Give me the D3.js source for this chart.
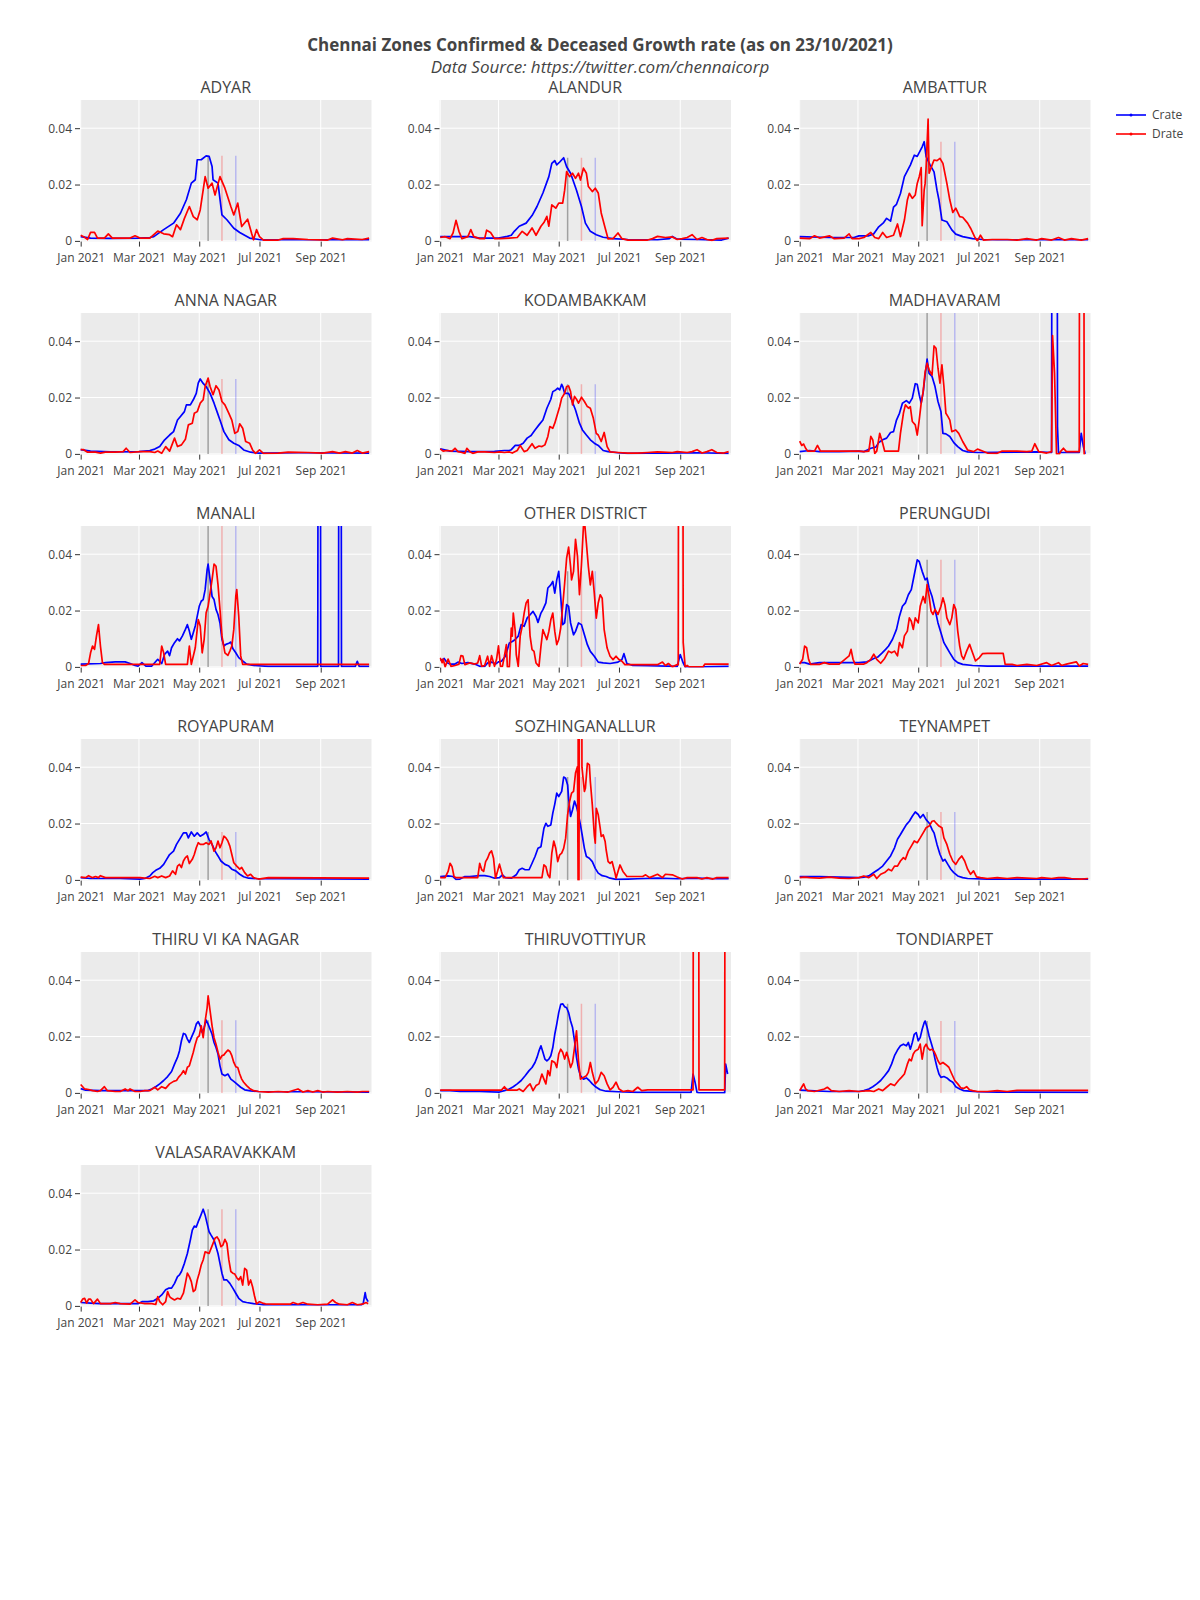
<!DOCTYPE html>
<html><head><meta charset="utf-8">
<script src="https://cdn.jsdelivr.net/npm/d3@7"></script>
<style>
body{margin:0;background:#fff}
svg{display:block;font-family:"Open Sans",sans-serif}
</style>
</head><body>
<svg id="chart" width="1200" height="1600"></svg>
<script>
// ---- data (x = days since 2021-01-01, y = growth rate) ----
const zones = ["ADYAR","ALANDUR","AMBATTUR","ANNA NAGAR","KODAMBAKKAM","MADHAVARAM","MANALI","OTHER DISTRICT","PERUNGUDI","ROYAPURAM","SOZHINGANALLUR","TEYNAMPET","THIRU VI KA NAGAR","THIRUVOTTIYUR","TONDIARPET","VALASARAVAKKAM"];
const seriesNames = ["Crate","Drate"];
const seriesColors = ["#0000ff","#ff0000"];
const xTickDates = ["2021-01-01","2021-03-01","2021-05-01","2021-07-01","2021-09-01"];
const xTickLabels = ["Jan 2021","Mar 2021","May 2021","Jul 2021","Sep 2021"];
const yTickValues = [0,0.02,0.04];
const yTickLabels = ["0","0.02","0.04"];
const phaseDates = ["2021-05-10","2021-05-24","2021-06-07"];
const phaseColors = ["rgba(110,110,110,0.6)","rgba(255,0,0,0.25)","rgba(0,0,255,0.22)"];
const titleText = "Chennai Zones Confirmed & Deceased Growth rate (as on 23/10/2021)";
const subtitleText = "Data Source: https://twitter.com/chennaicorp";

const crateADYAR = [[0,.0015],[10,.001],[30,.0009],[59,.001],[70,.0012],[74,.0015],[84,.004],[94,.0063],[101,.0098],[107,.0146],[112,.0205],[116,.0217],[118,.0288],[122,.0288],[127,.0302],[130,.030],[133,.0264],[134,.0217],[139,.0205],[143,.0092],[148,.0075],[155,.0045],[161,.003],[171,.001],[182,.0004],[220,.0004],[260,.0004],[292,.0004]];
const drateADYAR = [[0,.002],[3,.0015],[7,.0005],[10,.003],[14,.003],[17,.001],[24,.001],[28,.0025],[32,.001],[40,.001],[50,.001],[55,.0018],[60,.001],[70,.001],[78,.0035],[84,.0025],[90,.0022],[93,.0015],[97,.0057],[101,.004],[105,.008],[110,.0122],[114,.0086],[118,.0075],[121,.011],[126,.0228],[129,.0187],[133,.0205],[136,.0163],[141,.0228],[146,.0187],[152,.0122],[155,.0092],[159,.0134],[163,.0051],[169,.0077],[173,.0027],[175,.0004],[178,.004],[181,.0015],[185,.0003],[200,.0003],[205,.0008],[215,.0008],[230,.0005],[250,.0003],[255,.001],[265,.0004],[270,.0008],[285,.0005],[292,.001]];

const crateALANDUR = [[0,.0015],[30,.0015],[40,.001],[50,.001],[59,.001],[68,.0016],[72,.002],[75,.0034],[80,.0052],[87,.0063],[93,.009],[98,.0122],[104,.017],[110,.0228],[113,.0275],[116,.0285],[118,.027],[121,.028],[125,.0295],[128,.0263],[132,.024],[138,.018],[143,.0122],[147,.0063],[152,.0034],[158,.0022],[165,.0013],[175,.0008],[190,.0005],[220,.0004],[232,.0008],[235,.0016],[240,.0006],[260,.0005],[285,.0003],[292,.001]];
const drateALANDUR = [[0,.0012],[5,.0015],[10,.0008],[13,.0028],[16,.0073],[19,.0034],[22,.0008],[28,.0015],[31,.004],[34,.0015],[40,.0008],[45,.0008],[47,.0038],[51,.003],[55,.0008],[60,.0008],[70,.001],[78,.0012],[83,.0034],[88,.002],[93,.0046],[97,.002],[102,.0052],[105,.0065],[108,.0087],[110,.0052],[113,.0128],[117,.0116],[120,.0134],[124,.0134],[126,.018],[128,.0246],[131,.0228],[134,.024],[137,.0222],[140,.024],[142,.0216],[145,.0258],[148,.024],[150,.0193],[154,.0175],[157,.0187],[160,.017],[163,.0099],[167,.0046],[170,.0007],[175,.0008],[180,.0028],[184,.0008],[190,.0003],[210,.0003],[215,.0008],[220,.0016],[228,.0012],[235,.0014],[240,.0005],[245,.0008],[250,.0012],[255,.0022],[260,.0005],[265,.0012],[270,.0005],[275,.0002],[280,.0008],[292,.001]];

const crateAMBATTUR = [[0,.0015],[30,.0012],[55,.0012],[60,.0018],[70,.0018],[75,.0025],[80,.005],[85,.0065],[88,.008],[92,.007],[95,.012],[98,.013],[102,.0168],[106,.0228],[112,.0269],[116,.0304],[119,.0300],[124,.0334],[126,.0352],[128,.0299],[132,.027],[136,.0245],[139,.018],[141,.0145],[144,.0074],[149,.0068],[154,.0039],[158,.0024],[165,.0015],[175,.0008],[185,.0005],[200,.0004],[250,.0004],[292,.0004]];
const drateAMBATTUR = [[0,.001],[10,.0008],[15,.0018],[20,.001],[30,.0018],[35,.0008],[45,.001],[50,.0025],[53,.0008],[60,.0008],[65,.0012],[72,.003],[76,.0012],[80,.0008],[84,.003],[88,.0012],[95,.002],[99,.006],[102,.0015],[106,.0074],[109,.0145],[111,.0169],[114,.0151],[117,.0163],[119,.0204],[121,.0228],[123,.026],[124,.0054],[126,.018],[127,.0204],[128,.0263],[130,.0432],[131,.024],[134,.0269],[136,.0287],[139,.0285],[142,.0293],[145,.0275],[149,.0204],[152,.0145],[155,.0101],[158,.0116],[162,.0086],[165,.0084],[170,.0063],[173,.0045],[177,.0015],[180,0],[183,.002],[186,.0003],[195,.0005],[210,.0005],[220,.0003],[230,.0008],[240,.0003],[245,.0008],[255,.0003],[262,.0012],[268,.0003],[275,.0008],[285,.0003],[292,.0008]];

const crateANNANAGAR = [[0,.0015],[10,.001],[30,.0007],[59,.0008],[70,.0012],[75,.0017],[80,.0026],[85,.005],[90,.0067],[94,.0079],[98,.012],[101,.0133],[105,.015],[107,.0174],[111,.0174],[114,.0192],[117,.0215],[119,.0251],[121,.0266],[124,.025],[127,.0239],[131,.0215],[135,.018],[138,.015],[141,.012],[145,.0079],[150,.005],[155,.0038],[160,.003],[165,.0014],[172,.0006],[180,.0003],[220,.0004],[292,.0003]];
const drateANNANAGAR = [[0,.0015],[3,.0015],[7,.0006],[15,.0006],[20,.0003],[25,.0006],[35,.0006],[43,.0008],[46,.002],[50,.0005],[60,.0008],[70,.0008],[75,.0005],[78,.001],[82,.0002],[86,.0026],[90,.001],[95,.0056],[98,.0026],[102,.0032],[106,.0052],[109,.0103],[113,.0109],[115,.0144],[118,.015],[121,.018],[124,.0192],[126,.0239],[129,.0269],[131,.0239],[134,.021],[137,.0242],[140,.0227],[143,.0186],[146,.0174],[150,.0144],[153,.012],[156,.0073],[159,.0079],[161,.0107],[164,.0091],[167,.0044],[171,.0038],[174,.0014],[177,.0002],[181,.0014],[185,.0002],[200,.0003],[210,.0006],[230,.0005],[245,.0003],[255,.0008],[262,.0003],[268,.0008],[275,.0003],[280,.0012],[285,.0003],[292,.0008]];

const crateKODAMBAKKAM = [[0,.0018],[10,.001],[30,.0008],[55,.0009],[65,.0012],[70,.0012],[72,.0015],[76,.003],[80,.003],[84,.0038],[88,.0056],[92,.0065],[96,.0085],[100,.0103],[104,.012],[108,.0162],[112,.0194],[114,.0221],[117,.0227],[119,.0233],[121,.0227],[123,.0247],[124,.024],[126,.0215],[130,.0215],[133,.0192],[137,.0156],[141,.0109],[144,.0085],[148,.0067],[152,.005],[156,.0038],[160,.003],[165,.0012],[170,.0008],[180,.0004],[190,.0002],[210,.0003],[230,.0003],[260,.0004],[292,.0002]];
const drateKODAMBAKKAM = [[0,.0018],[3,.001],[7,.0012],[12,.001],[15,.002],[18,.0008],[22,.0005],[25,.0002],[27,.002],[30,.0008],[33,.0002],[38,.0007],[45,.0007],[55,.0005],[60,.0007],[65,.0005],[70,.0007],[73,.0003],[78,.0012],[81,.003],[85,.0008],[88,.0012],[93,.0036],[96,.002],[100,.0028],[103,.0026],[106,.0032],[109,.0062],[111,.0097],[114,.0091],[116,.0109],[118,.0133],[121,.0168],[123,.0198],[126,.0215],[128,.0239],[130,.0241],[132,.0221],[134,.0174],[136,.0204],[138,.0194],[140,.018],[143,.0201],[146,.0186],[149,.0168],[152,.0162],[155,.0127],[158,.0073],[160,.0067],[163,.0044],[166,.0076],[169,.0026],[172,.0007],[180,.0005],[190,.0003],[200,.0003],[210,.0005],[220,.0007],[235,.0005],[240,.0008],[250,.0005],[255,.0008],[260,.0015],[265,.0003],[270,.0008],[275,.0015],[280,.0005],[287,.0003],[292,.0008]];

const crateMADHAVARAM = [[0,.0008],[10,.0012],[20,.0008],[40,.0008],[60,.001],[65,.0008],[68,.0013],[72,.002],[77,.0024],[80,.004],[84,.005],[88,.0056],[92,.0076],[95,.0079],[98,.012],[101,.0144],[104,.018],[108,.0189],[111,.018],[114,.0198],[117,.0249],[119,.0247],[121,.021],[123,.018],[125,.0218],[127,.028],[129,.0336],[131,.0286],[134,.0275],[137,.0239],[140,.0186],[143,.015],[145,.0073],[148,.0071],[152,.0062],[156,.004],[160,.0026],[165,.0012],[170,.0007],[180,.0005],[220,.0006],[240,.0007],[255,.0005],[256,.3],[260,.3],[261,.0095],[262,.0005],[283,.0005],[285,.0073],[287,.003],[289,0]];
const drateMADHAVARAM = [[0,.0045],[2,.003],[4,.0035],[6,.002],[8,.001],[15,.001],[18,.003],[21,.001],[30,.001],[60,.001],[65,.0008],[70,.001],[72,.0062],[74,.005],[76,.0002],[78,.001],[81,.0073],[84,.0038],[86,.001],[100,.001],[102,.0073],[105,.0144],[107,.0174],[110,.0162],[112,.0168],[114,.0115],[117,.0103],[119,.0067],[121,.012],[123,.018],[125,.0221],[127,.0292],[129,.0322],[131,.0298],[134,.028],[136,.0383],[138,.0375],[140,.0304],[142,.0251],[144,.0316],[146,.0239],[148,.0144],[150,.0133],[152,.012],[154,.0079],[158,.0085],[161,.0073],[165,.0044],[170,.0014],[176,.0008],[180,.0017],[185,.001],[190,.0003],[200,.0002],[205,.001],[220,.001],[230,.0008],[235,.001],[238,.0036],[242,.0008],[250,.0003],[255,.0008],[256,.042],[258,.0286],[260,0],[263,0],[264,.0008],[267,.002],[270,.0008],[283,.0008],[284,.3],[287,.3],[288,0],[289,0]];

const crateMANALI = [[0,.001],[20,.0012],[25,.0015],[35,.0018],[45,.0018],[50,.0012],[55,.0005],[58,.0003],[62,.0015],[66,.0003],[72,.0003],[78,.0027],[82,.0012],[85,.0045],[88,.0056],[90,.004],[92,.0068],[95,.0086],[98,.01],[100,.0092],[103,.011],[106,.0133],[108,.015],[110,.0127],[112,.0098],[114,.0121],[116,.0145],[118,.018],[120,.0215],[122,.0233],[124,.0239],[126,.0274],[128,.0345],[129,.0365],[131,.031],[133,.025],[135,.0239],[137,.0204],[139,.0186],[141,.0156],[143,.0098],[145,.0074],[147,.008],[150,.0084],[152,.0088],[154,.0065],[157,.005],[160,.0033],[164,.0021],[168,.001],[175,.0005],[190,.0002],[240,.0002],[241,.3],[242,.3],[243,.0002],[261,.0002],[262,.3],[263,.3],[264,.0002],[278,.0002],[280,.002],[282,.0002],[292,.0002]];
const drateMANALI = [[0,.0005],[5,.0005],[8,.0012],[10,.005],[12,.0074],[14,.0062],[16,.011],[18,.015],[20,.0074],[22,.0015],[24,.0009],[80,.0009],[82,.0074],[84,.005],[86,.0009],[108,.0009],[110,.0074],[112,.0009],[116,.0068],[119,.0168],[121,.0145],[123,.005],[125,.0098],[127,.0192],[129,.0215],[131,.0262],[133,.031],[135,.0365],[137,.0357],[139,.0292],[141,.0204],[143,.011],[146,.005],[149,.0041],[151,.0056],[153,.0074],[155,.0133],[157,.025],[158,.0274],[160,.018],[162,.0039],[164,.0009],[292,.0009]];

const crateOTHERDISTRICT = [[0,.0025],[2,.0025],[4,.003],[7,.0015],[10,.001],[15,.001],[18,.0017],[22,.0012],[28,.0015],[35,.001],[40,.0002],[45,.0002],[48,.0014],[52,.0017],[56,.001],[59,.0018],[62,.002],[66,.0038],[70,.0085],[73,.009],[76,.0097],[79,.0109],[82,.015],[85,.0144],[88,.0173],[91,.0185],[94,.0197],[97,.0179],[99,.0158],[102,.0191],[104,.0203],[107,.0227],[109,.028],[112,.0291],[114,.0303],[116,.0262],[118,.0309],[120,.0339],[122,.025],[124,.015],[126,.0156],[128,.0221],[130,.0215],[132,.0156],[135,.0114],[137,.0126],[140,.0156],[143,.015],[146,.0114],[149,.0079],[152,.0055],[156,.0038],[160,.0017],[165,.0014],[172,.0012],[180,.0017],[184,.0026],[186,.0047],[189,.0012],[195,.0005],[210,.0004],[230,.0003],[240,.0002],[243,.0044],[246,.0014],[248,0],[265,0],[292,.0002]];
const drateOTHERDISTRICT = [[0,.0032],[2,.0015],[3,.0028],[5,0],[8,.0028],[11,.0002],[15,.0005],[19,.001],[21,.004],[23,.0038],[25,.0008],[30,.0014],[35,.001],[38,.0014],[40,.004],[42,.0002],[45,.0005],[48,.0038],[50,.0002],[52,.004],[55,.0002],[57,.0026],[59,.0075],[61,.0002],[63,.0002],[65,.0038],[67,.0079],[68,0],[70,0],[72,.0138],[73,.0109],[74,.0191],[76,.0126],[77,.0044],[79,.0002],[81,.0109],[83,.0144],[85,.0191],[87,.0227],[89,.0238],[91,.0109],[93,.0061],[95,.0055],[97,.0014],[100,.0002],[102,.0073],[104,.0132],[106,.0114],[108,.0097],[110,.0126],[112,.0167],[114,.0191],[116,.0126],[118,.0079],[120,.0097],[122,.0138],[124,.0215],[126,.0297],[128,.0386],[130,.0425],[132,.0356],[133,.0309],[135,.0339],[137,.0453],[139,.0392],[141,.0256],[143,.0362],[145,.0498],[146,.052],[148,.0439],[150,.0356],[152,.0291],[154,.0339],[156,.0262],[158,.0173],[160,.0227],[162,.0256],[164,.0244],[166,.0132],[169,.0067],[172,.0038],[175,.0026],[178,.0038],[181,.0026],[184,.002],[187,.0008],[190,.0008],[220,.0008],[225,.0017],[228,.0005],[231,.0012],[235,0],[240,.0008],[241,.0008],[242,.3],[245,.3],[246,.0087],[248,0],[250,.0005],[252,0],[266,0],[268,.001],[292,.001]];

const cratePERUNGUDI = [[0,.0015],[5,.0015],[10,.001],[20,.0015],[40,.0015],[60,.0015],[68,.0018],[72,.0024],[75,.003],[79,.0035],[83,.0048],[87,.0062],[90,.0074],[94,.0098],[98,.0133],[101,.018],[104,.0215],[107,.0227],[110,.0256],[113,.0274],[116,.0327],[119,.038],[121,.0374],[124,.0339],[127,.0309],[129,.0315],[131,.028],[134,.025],[137,.0204],[140,.0156],[143,.0121],[146,.0086],[149,.0068],[152,.005],[156,.0027],[160,.0015],[165,.0009],[175,.0005],[190,.0003],[292,.0003]];
const dratePERUNGUDI = [[0,.001],[3,.0027],[5,.0074],[7,.0068],[9,.0027],[11,.0009],[20,.0009],[25,.0015],[30,.001],[40,.001],[50,.0039],[52,.0062],[54,.0027],[56,.001],[65,.001],[68,.0015],[72,.0027],[75,.0045],[78,.0027],[82,.0013],[86,.003],[90,.0056],[93,.005],[96,.0056],[99,.0039],[101,.0086],[104,.0068],[106,.011],[109,.0127],[111,.0174],[113,.0162],[115,.0133],[117,.0174],[120,.0156],[122,.0215],[125,.025],[127,.0227],[129,.0292],[131,.025],[133,.0198],[135,.0186],[137,.0204],[140,.0186],[143,.0215],[145,.0245],[147,.0221],[149,.0174],[152,.015],[154,.0174],[156,.0221],[158,.0204],[160,.0127],[162,.0074],[164,.0039],[166,.0027],[169,.0056],[172,.008],[175,.005],[178,.0021],[182,.0033],[185,.0047],[190,.0048],[206,.0048],[208,.0009],[215,.0009],[220,.0005],[230,.0009],[240,.0005],[250,.0015],[255,.0005],[262,.0015],[265,.0005],[270,.001],[280,.0018],[283,.0003],[287,.0012],[292,.0009]];

const crateROYAPURAM = [[0,.0008],[10,.0005],[20,.0005],[40,.0005],[60,.0003],[65,.0005],[70,.0014],[73,.0026],[76,.0034],[80,.0041],[84,.0055],[87,.0073],[90,.009],[94,.0102],[97,.0126],[101,.0149],[104,.0167],[107,.0167],[109,.0149],[112,.017],[115,.0155],[118,.0167],[121,.0155],[124,.0161],[127,.017],[130,.0143],[133,.0126],[136,.0102],[139,.0085],[142,.0067],[146,.0055],[150,.0049],[153,.0038],[157,.0032],[161,.002],[165,.0011],[170,.0006],[180,.0004],[200,.0004],[292,.0003]];
const drateROYAPURAM = [[0,.001],[5,.0008],[8,.0015],[12,.0008],[15,.0012],[18,.0008],[20,.0015],[25,.0008],[60,.0008],[70,.0005],[75,.0013],[78,.0008],[82,.0014],[86,.0008],[90,.0014],[93,.0032],[96,.002],[98,.0049],[100,.0055],[102,.0044],[104,.0067],[106,.0079],[108,.0085],[110,.0058],[113,.0073],[115,.009],[117,.0114],[119,.0132],[121,.0126],[124,.0126],[127,.0132],[130,.0126],[132,.0138],[135,.0102],[137,.0114],[139,.0138],[141,.0114],[143,.0132],[145,.0155],[147,.0149],[149,.0138],[151,.012],[153,.009],[155,.0061],[158,.0049],[161,.0038],[163,.0044],[166,.0026],[169,.0014],[172,.002],[175,.0008],[180,.0003],[190,.0008],[292,.0006]];

const crateSOZHINGANALLUR = [[0,.0012],[8,.0014],[13,.0012],[16,.0002],[20,.0003],[25,.0012],[30,.0012],[40,.0015],[45,.0015],[50,.0012],[55,.0006],[60,.0008],[63,.0018],[66,.0008],[72,.0006],[77,.0018],[80,.0036],[83,.0041],[86,.0036],[90,.0036],[93,.0059],[96,.0083],[99,.0112],[102,.0118],[105,.0183],[107,.0201],[109,.019],[112,.0195],[114,.0237],[116,.0269],[118,.0308],[120,.0296],[123,.0314],[125,.0365],[127,.0361],[129,.0337],[130,.029],[132,.0225],[134,.0249],[136,.028],[138,.026],[140,.0231],[142,.0195],[144,.0154],[146,.0112],[148,.0083],[151,.0077],[154,.0065],[157,.0041],[160,.0024],[164,.0015],[168,.0012],[172,.0006],[178,.0002],[190,.0003],[200,.0004],[220,.0006],[240,.0004],[260,.0006],[280,.0004],[292,.0004]];
const drateSOZHINGANALLUR = [[0,.0008],[5,.0008],[8,.003],[10,.0059],[12,.0047],[14,.0012],[16,.0008],[38,.0008],[40,.0059],[42,.0036],[44,.003],[46,.0065],[48,.0077],[50,.0095],[52,.0103],[54,.0077],[56,.0006],[58,.003],[60,.0056],[62,.003],[64,.0008],[103,.0008],[105,.0053],[107,.0047],[109,.0018],[111,.0008],[113,.0095],[115,.0138],[117,.0112],[119,.0065],[121,.0089],[123,.0095],[125,.0112],[127,.0148],[129,.0231],[131,.0278],[133,.0308],[135,.0314],[137,.0379],[139,.0402],[139.6,0],[140,.3],[140.5,0],[142.5,.3],[143.5,.04],[146,.0314],[147,.0325],[149,.0414],[151,.0408],[152,.0349],[154,.0266],[156,.016],[157,.013],[158,.0254],[160,.0231],[162,.0183],[163,.0154],[165,.016],[167,.0136],[168,.0107],[170,.0065],[172,.0059],[174,.0065],[177,.0024],[178,.0006],[180,.003],[182,.0053],[185,.003],[189,.0012],[195,.0012],[205,.0012],[208,.0018],[212,.0008],[220,.002],[225,.0008],[228,.002],[235,.0018],[240,.001],[245,.0003],[250,.0008],[260,.0008],[265,.0003],[270,.0008],[276,.0003],[280,.0008],[292,.0008]];

const crateTEYNAMPET = [[0,.0012],[20,.0012],[40,.001],[60,.0008],[65,.001],[70,.0014],[75,.0026],[80,.0038],[84,.0049],[88,.0067],[92,.0085],[96,.0114],[99,.0144],[102,.0161],[105,.0179],[108,.0196],[111,.0208],[114,.0226],[117,.0241],[120,.0232],[122,.022],[125,.0232],[128,.0214],[131,.0202],[134,.0179],[136,.0167],[139,.0126],[142,.0091],[145,.0067],[147,.0073],[150,.0055],[153,.0038],[156,.0026],[160,.0014],[165,.0008],[170,.0005],[190,.0003],[220,.0003],[292,.0003]];
const drateTEYNAMPET = [[0,.0008],[5,.001],[10,.0008],[20,.0006],[30,.001],[40,.0006],[50,.0005],[60,.0008],[65,.0014],[70,.0008],[75,.002],[78,.0005],[82,.002],[86,.0026],[90,.0038],[93,.0032],[96,.0049],[99,.0049],[102,.0067],[105,.0079],[107,.0073],[110,.0102],[113,.012],[116,.0138],[119,.0132],[122,.0149],[125,.0167],[128,.0185],[131,.0191],[134,.0208],[136,.021],[138,.0202],[141,.0191],[144,.0185],[146,.0149],[149,.0126],[152,.0091],[155,.0067],[158,.0055],[161,.0073],[164,.0085],[167,.0067],[170,.0038],[173,.002],[176,.0032],[179,.0011],[183,.0008],[190,.0005],[200,.0008],[210,.0005],[220,.0008],[240,.0005],[245,.0008],[255,.0005],[262,.0008],[268,.0008],[275,.0005],[285,.0003],[292,.0005]];

const crateTHIRUVIKANAGAR = [[0,.0015],[5,.001],[20,.0008],[40,.0008],[60,.0008],[68,.0008],[72,.0014],[76,.0022],[80,.0032],[84,.0044],[88,.0058],[92,.0076],[95,.0102],[98,.0126],[100,.0149],[102,.0185],[104,.0211],[106,.0208],[108,.0191],[110,.0179],[112,.0196],[115,.022],[117,.0244],[119,.0253],[121,.0238],[123,.0214],[125,.0232],[127,.0258],[129,.0244],[131,.0226],[133,.0208],[135,.0179],[137,.0161],[139,.0138],[141,.0096],[143,.0067],[146,.0061],[149,.0067],[152,.0049],[155,.0041],[158,.0032],[162,.002],[166,.0011],[172,.0007],[180,.0005],[200,.0004],[230,.0004],[292,.0003]];
const drateTHIRUVIKANAGAR = [[0,.003],[2,.0022],[4,.0014],[8,.0012],[12,.0008],[17,.0005],[20,.0008],[24,.0022],[27,.0008],[35,.0005],[40,.0005],[45,.0014],[48,.0008],[50,.0014],[55,.0005],[60,.0005],[65,.0008],[70,.0008],[75,.002],[78,.0011],[82,.0022],[86,.0016],[90,.0032],[94,.0041],[97,.0044],[99,.0055],[102,.0067],[104,.0079],[106,.0067],[108,.0091],[110,.0096],[112,.012],[114,.0144],[116,.0173],[118,.0196],[120,.0202],[122,.0238],[124,.0196],[126,.0255],[128,.0302],[129,.0344],[131,.0291],[133,.0238],[135,.0196],[137,.0173],[139,.0144],[141,.012],[143,.0132],[145,.0135],[147,.0144],[149,.0152],[151,.0147],[153,.0132],[155,.0108],[157,.0093],[159,.009],[161,.0067],[163,.0049],[165,.0038],[168,.0026],[171,.0016],[175,.0008],[180,.0005],[190,.0003],[200,.0005],[210,.0003],[220,.0014],[225,.0003],[230,.0008],[235,.0003],[240,.0008],[245,.0003],[250,.0005],[260,.0003],[270,.0005],[280,.0003],[285,.0005],[292,.0005]];

const crateTHIRUVOTTIYUR = [[0,.0008],[10,.0008],[20,.0005],[40,.0005],[60,.0003],[65,.0008],[70,.0014],[74,.0022],[78,.0032],[82,.0044],[86,.0061],[90,.0079],[93,.009],[96,.0108],[98,.0126],[100,.0149],[102,.0167],[104,.0144],[106,.012],[108,.0114],[110,.012],[112,.0132],[114,.0161],[116,.0208],[118,.0244],[120,.0285],[122,.0314],[124,.0316],[126,.0306],[128,.0302],[130,.0285],[132,.0255],[134,.0232],[136,.0185],[138,.0126],[140,.0085],[142,.0061],[145,.0049],[148,.0053],[151,.0044],[154,.0032],[158,.002],[162,.0011],[168,.0006],[180,.0004],[200,.0002],[254,.0002],[256,.0067],[258,.0038],[260,.0002],[262,0],[288,0],[289,.0102],[291,.0067]];
const drateTHIRUVOTTIYUR = [[0,.001],[60,.001],[62,.001],[65,.0022],[68,.001],[78,.001],[80,.0014],[84,.0005],[88,.0022],[91,.0032],[94,.0008],[97,.0026],[100,.0032],[103,.0067],[105,.0049],[107,.0032],[109,.0079],[111,.0061],[113,.0114],[116,.0108],[118,.009],[120,.0138],[122,.0155],[124,.0144],[126,.012],[128,.0144],[130,.012],[132,.009],[134,.0108],[136,.0161],[138,.022],[140,.0114],[142,.0049],[145,.0055],[148,.0061],[150,.0073],[152,.0108],[154,.0073],[157,.0032],[160,.0044],[163,.0073],[166,.0061],[169,.0032],[172,.0011],[175,.002],[178,.0038],[181,.0014],[185,.0005],[190,.0008],[195,.0005],[200,.002],[204,.0008],[210,.0011],[256,.0011],[257,.3],[261,.3],[262,.0011],[288,.0011],[289,.3]];

const crateTONDIARPET = [[0,.001],[10,.0008],[30,.0005],[50,.0005],[60,.0005],[65,.0008],[70,.0014],[74,.0022],[78,.0032],[82,.0044],[86,.0061],[90,.0079],[93,.0102],[96,.0132],[99,.0152],[102,.0167],[105,.0173],[108,.0167],[110,.0179],[112,.0155],[114,.0179],[116,.0208],[118,.0214],[120,.0185],[122,.0196],[124,.0226],[126,.0249],[127,.0255],[129,.0232],[131,.0202],[133,.0179],[135,.0155],[137,.012],[139,.0091],[141,.0067],[143,.0055],[146,.0058],[149,.0053],[152,.0044],[155,.0038],[158,.0022],[162,.0014],[166,.0008],[172,.0006],[180,.0004],[200,.0003],[292,.0002]];
const drateTONDIARPET = [[0,.0008],[2,.002],[4,.0032],[6,.0014],[8,.0008],[15,.0005],[25,.0014],[28,.002],[32,.0008],[40,.0005],[50,.0008],[60,.0005],[70,.0008],[75,.0005],[80,.0014],[84,.0008],[88,.002],[92,.0032],[96,.0026],[100,.0044],[103,.0055],[106,.0067],[109,.0102],[111,.012],[113,.0114],[115,.0138],[117,.0149],[120,.0155],[122,.0173],[124,.012],[126,.0161],[128,.0173],[130,.0158],[132,.0152],[134,.0155],[136,.0147],[138,.0132],[140,.0114],[142,.0102],[145,.0108],[148,.01],[151,.0091],[154,.0067],[157,.0044],[160,.0032],[163,.0018],[166,.0016],[169,.0022],[172,.0011],[175,.0008],[180,.0005],[190,.0005],[200,.0008],[210,.0005],[220,.0009],[292,.0009]];

const crateVALASARAVAKKAM = [[0,.0012],[10,.001],[20,.0008],[40,.0008],[58,.0008],[62,.0015],[68,.0015],[74,.0018],[78,.0027],[82,.0039],[86,.0057],[89,.0063],[92,.0063],[95,.008],[98,.0104],[100,.011],[102,.0122],[105,.0151],[108,.0186],[111,.0234],[113,.0269],[115,.0283],[117,.028],[119,.0299],[121,.0316],[123,.0334],[124,.0343],[126,.0322],[128,.0292],[130,.0263],[132,.0251],[135,.0234],[137,.021],[139,.0186],[141,.0151],[143,.0116],[145,.0092],[148,.0092],[151,.008],[154,.0063],[157,.0045],[160,.0027],[164,.0015],[168,.0012],[175,.0008],[185,.0004],[284,.0004],[286,.0008],[288,.0047],[289,.0027],[291,.0015]];
const drateVALASARAVAKKAM = [[0,.0012],[2,.0024],[4,.0027],[6,.001],[8,.0024],[10,.0024],[13,.0008],[17,.0024],[20,.0008],[25,.0008],[30,.0008],[35,.0012],[40,.0008],[50,.0006],[55,.0021],[58,.0012],[65,.0008],[72,.0008],[76,.0005],[78,.0033],[80,.0015],[83,.0004],[86,.0015],[88,.0051],[90,.0033],[92,.0027],[95,.0021],[98,.0027],[101,.0024],[104,.0045],[106,.008],[108,.0116],[110,.0104],[112,.0086],[114,.0051],[116,.0057],[118,.0092],[120,.0116],[122,.0145],[124,.0163],[126,.0192],[128,.0189],[130,.0186],[132,.0204],[134,.0222],[136,.024],[138,.0245],[140,.0234],[142,.021],[144,.0216],[146,.0236],[148,.0222],[150,.0163],[152,.0122],[154,.0116],[156,.0113],[158,.01],[160,.0092],[162,.0104],[164,.0074],[166,.0133],[168,.0127],[170,.0074],[172,.0092],[174,.0068],[176,.0035],[178,.0007],[181,.0015],[184,.001],[187,.0007],[195,.0006],[212,.0006],[215,.0012],[220,.0006],[225,.0012],[230,.0006],[240,.0004],[250,.0006],[255,.0021],[258,.0012],[262,.0006],[270,.0004],[275,.0012],[280,.0004],[285,.0006],[289,.0012],[291,.0008]];

// table built from the arrays above
const zoneCrate = [crateADYAR,crateALANDUR,crateAMBATTUR,crateANNANAGAR,crateKODAMBAKKAM,crateMADHAVARAM,crateMANALI,crateOTHERDISTRICT,cratePERUNGUDI,crateROYAPURAM,crateSOZHINGANALLUR,crateTEYNAMPET,crateTHIRUVIKANAGAR,crateTHIRUVOTTIYUR,crateTONDIARPET,crateVALASARAVAKKAM];
const zoneDrate = [drateADYAR,drateALANDUR,drateAMBATTUR,drateANNANAGAR,drateKODAMBAKKAM,drateMADHAVARAM,drateMANALI,drateOTHERDISTRICT,dratePERUNGUDI,drateROYAPURAM,drateSOZHINGANALLUR,drateTEYNAMPET,drateTHIRUVIKANAGAR,drateTHIRUVOTTIYUR,drateTONDIARPET,drateVALASARAVAKKAM];

// ---- drawing ----
const W = 1200, H = 1600;
const colLeft = [80, 439.5, 799];
const rowTop = [100, 313, 526, 739, 952, 1165];
const PW = 291.5, PH = 141.6;
const textColor = "#444";
const bg = "rgb(235,235,235)";
const base = Date.UTC(2021,0,1);
const dayToDate = d => new Date(base + d*864e5);
const parseDay = s => new Date(s + "T00:00:00Z");

const svg = d3.select("#chart");
svg.append("rect").attr("width",W).attr("height",H).attr("fill","#fff");

// titles
svg.append("text").attr("x",600).attr("y",51).attr("text-anchor","middle")
  .attr("font-size",17).attr("font-weight","bold").attr("fill",textColor).text(titleText);
svg.append("text").attr("x",600).attr("y",73).attr("text-anchor","middle")
  .attr("font-size",17).attr("font-style","italic").attr("fill",textColor).text(subtitleText);

const defs = svg.append("defs");

zones.forEach((zone, i) => {
  const r = Math.floor(i/3), c = i%3;
  const left = colLeft[c], top = rowTop[r];
  const x = d3.scaleUtc().domain([dayToDate(-0.7), dayToDate(294.4)]).range([left, left+PW]);
  const y = d3.scaleLinear().domain([-0.00025, 0.05]).range([top+PH, top]);
  const g = svg.append("g");

  g.append("rect").attr("x",left).attr("y",top).attr("width",PW).attr("height",PH).attr("fill",bg);

  // grid
  g.selectAll(".gx").data(xTickDates).join("line")
    .attr("x1",d=>x(parseDay(d))).attr("x2",d=>x(parseDay(d)))
    .attr("y1",top).attr("y2",top+PH).attr("stroke","#fff").attr("stroke-width",1);
  g.selectAll(".gy").data(yTickValues).join("line")
    .attr("x1",left).attr("x2",left+PW)
    .attr("y1",d=>y(d)).attr("y2",d=>y(d)).attr("stroke","#fff").attr("stroke-width",1);

  // axes
  const xa = g.append("g").attr("transform",`translate(0,${top+PH})`)
    .call(d3.axisBottom(x).tickValues(xTickDates.map(parseDay)).tickFormat((d,k)=>xTickLabels[k]).tickSize(5).tickPadding(7));
  const ya = g.append("g").attr("transform",`translate(${left},0)`)
    .call(d3.axisLeft(y).tickValues(yTickValues).tickFormat((d,k)=>yTickLabels[k]).tickSize(5).tickPadding(3));
  [xa, ya].forEach(a => {
    a.select(".domain").remove();
    a.selectAll(".tick line").attr("stroke","#333");
    a.selectAll(".tick text").attr("fill",textColor).attr("font-size",12).attr("font-family",'"Open Sans",sans-serif');
  });

  // subplot title
  g.append("text").attr("x",left+PW/2).attr("y",top-7).attr("text-anchor","middle")
    .attr("font-size",16).attr("fill",textColor).text(zone);

  // clip
  const cid = "clip"+i;
  defs.append("clipPath").attr("id",cid).append("rect")
    .attr("x",left).attr("y",top).attr("width",PW).attr("height",PH);
  const plot = g.append("g").attr("clip-path",`url(#${cid})`);

  // phase lines from 0 to max Crate
  const cmax = d3.max(zoneCrate[i], d=>d[1]);
  phaseDates.forEach((pd,k) => {
    plot.append("line").attr("x1",x(parseDay(pd))).attr("x2",x(parseDay(pd)))
      .attr("y1",y(0)).attr("y2",y(cmax)).attr("stroke",phaseColors[k]).attr("stroke-width",1.5);
  });

  const line = d3.line().x(d=>x(dayToDate(d[0]))).y(d=>y(d[1]));
  [zoneCrate[i], zoneDrate[i]].forEach((s,k) => {
    plot.append("path").datum(s).attr("d",line).attr("fill","none")
      .attr("stroke",seriesColors[k]).attr("stroke-width",1.7).attr("stroke-linejoin","round");
  });
});

// legend
const lg = svg.append("g");
seriesNames.forEach((n,k) => {
  const yy = 115 + k*19;
  lg.append("line").attr("x1",1116).attr("x2",1146).attr("y1",yy).attr("y2",yy)
    .attr("stroke",seriesColors[k]).attr("stroke-width",1.6);
  lg.append("circle").attr("cx",1131).attr("cy",yy).attr("r",1.5).attr("fill",seriesColors[k]);
  lg.append("text").attr("x",1152).attr("y",yy+4.3).attr("font-size",12).attr("fill",textColor).text(n);
});
</script>
</body></html>
